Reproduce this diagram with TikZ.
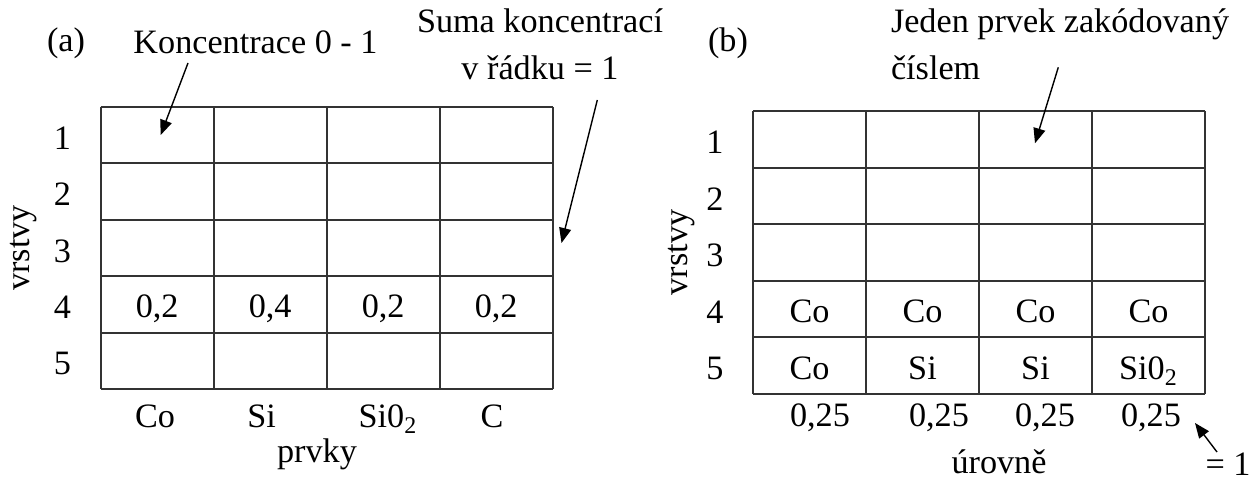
\documentclass[tikz,border=0pt]{standalone}
\usepackage{fontspec}
\setmainfont{Liberation Serif}
\usetikzlibrary{arrows.meta}

\begin{document}
\begin{tikzpicture}[
    x=0.5pt, y=-0.5pt,
    every node/.style={font=\fontsize{17.1}{23.5}\selectfont, inner sep=0pt},
    gridline/.style={draw=black!80, line width=1pt},
    pointer/.style={-{Triangle[length=7.5pt,width=6pt]}, line width=0.7pt},
    lbl/.style={anchor=base},
]
\useasboundingbox (0,0) rectangle (1255,486);

% (a) concentrations
\foreach \i in {0,...,4} \draw[gridline] (100.7+113*\i,107) -- (100.7+113*\i,389);
\foreach \j in {0,...,5} \draw[gridline] (100.7,107+56.4*\j) -- (552.7,107+56.4*\j);

\node[lbl] (tagA) at (66,52) {(a)};
\node[lbl] (konc) at (255.5,54) {Koncentrace 0 - 1};
\node[lbl,align=center] (suma) at (540,80) {Suma koncentrací\\v řádku = 1};
\node[rotate=90] (vrstA) at (24,248) {vrstvy};
\foreach \r in {1,...,5} \node (rowA\r) at (62.5,107+56.4*\r-25.2) {\r};

\node[lbl] (valA1) at (157.2,318) {0,2};
\node[lbl] (valA2) at (270.2,318) {0,4};
\node[lbl] (valA3) at (383.2,318) {0,2};
\node[lbl] (valA4) at (496.2,318) {0,2};

\node[lbl] (colA1) at (155,428) {Co};
\node[lbl] (colA2) at (261.6,428) {Si};
\node[lbl] (colA3) at (388,428) {Si0\textsubscript{2}};
\node[lbl] (colA4) at (492,428) {C};
\node[lbl] (prvky) at (317,463) {prvky};

\coordinate (koncTail) at (188,63);
\coordinate (koncTip) at (160.7,135);
\coordinate (sumaTail) at (597.3,100);
\coordinate (sumaTip) at (561.5,243);
\draw[pointer] (koncTail) -- (koncTip);
\draw[pointer] (sumaTail) -- (sumaTip);

% (b) coded elements
\foreach \i in {0,...,4} \draw[gridline] (753+113*\i,111) -- (753+113*\i,394);
\foreach \j in {0,...,5} \draw[gridline] (753,111+56.6*\j) -- (1205,111+56.6*\j);

\node[lbl] (tagB) at (728,52) {(b)};
\node[lbl,anchor=base west,align=left] (jeden) at (890.6,80) {Jeden prvek zakódovaný\\číslem};
\node[rotate=90] (vrstB) at (682,252.5) {vrstvy};
\foreach \r in {1,...,5} \node (rowB\r) at (715,111+56.6*\r-25.3) {\r};

\foreach \c in {1,...,4} \node[lbl] (codeB4\c) at (696.5+113*\c,323) {Co};
\node[lbl] (codeB51) at (809.5,380) {Co};
\node[lbl] (codeB52) at (922.5,380) {Si};
\node[lbl] (codeB53) at (1035.5,380) {Si};
\node[lbl] (codeB54) at (1148.5,380) {Si0\textsubscript{2}};

\node[lbl] (levB1) at (820,427) {0,25};
\node[lbl] (levB2) at (939,427) {0,25};
\node[lbl] (levB3) at (1045,427) {0,25};
\node[lbl] (levB4) at (1151,427) {0,25};
\node[lbl] (urovne) at (999,474) {úrovně};
\node[lbl] (sumB) at (1228,476) {= 1};

\coordinate (jedenTail) at (1058.3,67.3);
\coordinate (jedenTip) at (1035,143.3);
\coordinate (sumBTail) at (1217,452);
\coordinate (sumBTip) at (1195,423);
\draw[pointer] (jedenTail) -- (jedenTip);
\draw[pointer] (sumBTail) -- (sumBTip);
\end{tikzpicture}
\end{document}
